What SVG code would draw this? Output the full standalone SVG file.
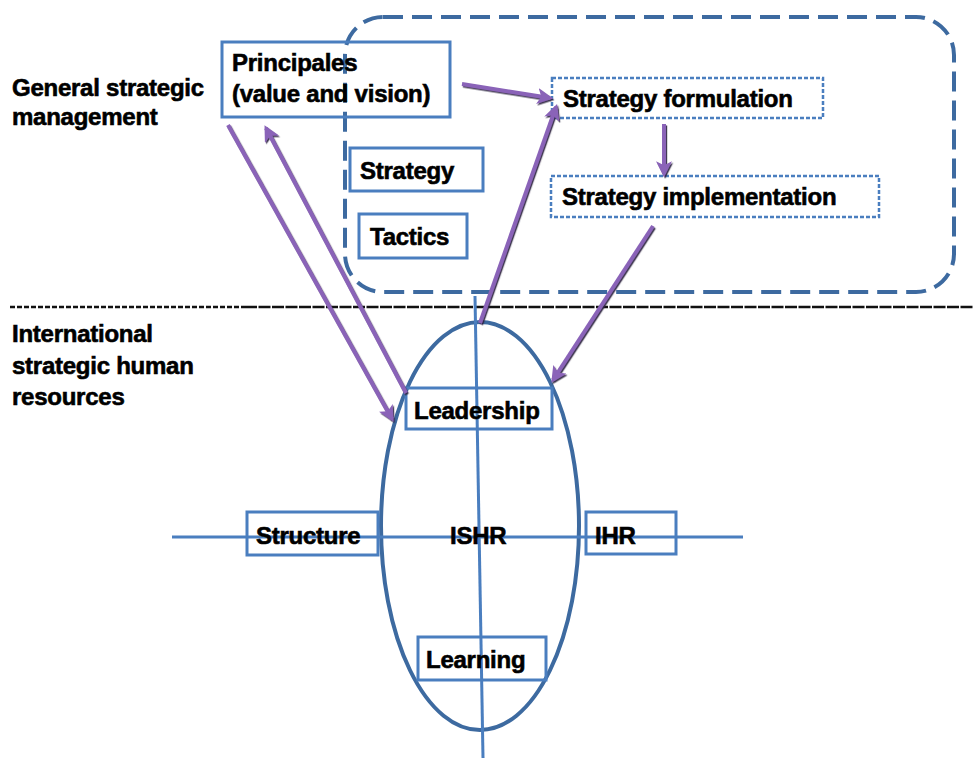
<svg xmlns="http://www.w3.org/2000/svg" width="974" height="758" viewBox="0 0 974 758">
  <style>
    text { font-family: "Liberation Sans", Arial, sans-serif; font-weight: bold; font-size: 24px; fill: #000; stroke: #000; stroke-width: 0.6; letter-spacing: -0.25px; }
    .box { fill: none; stroke: #4a7ebf; stroke-width: 3; }
    .dbox { fill: none; stroke: #4a7ebf; stroke-width: 2.5; stroke-dasharray: 4 2; }
    .frame { fill: none; stroke: #3d6aa0; stroke-width: 4; stroke-dasharray: 20 9; }
    .axis { fill: none; stroke: #4a7ebf; stroke-width: 3; }
    .arrow { fill: none; stroke: #8a63b8; stroke-width: 4; marker-end: url(#head); }
  </style>
  <defs>
    <marker id="head" viewBox="0 0 10 10" refX="8" refY="5" markerWidth="4" markerHeight="4" orient="auto" markerUnits="strokeWidth">
      <path d="M0,0 L10,5 L0,10 L2.5,5 Z" fill="#8a63b8"/>
    </marker>
    <filter id="shade" x="-10%" y="-10%" width="120%" height="120%">
      <feDropShadow dx="1.2" dy="1.5" stdDeviation="0.4" flood-color="#2e2040" flood-opacity="0.9"/>
    </filter>
  </defs>
  <rect width="974" height="758" fill="#fff"/>

  <!-- strategic management frame -->
  <rect id="frame" class="frame" x="345" y="17" width="609" height="275" rx="38" ry="38"/>

  <!-- divider between the two levels -->
  <line x1="10" y1="307" x2="245" y2="307" stroke="#111" stroke-width="2.5" stroke-dasharray="5 2"/>
  <line x1="245" y1="307" x2="974" y2="307" stroke="#111" stroke-width="2.5" stroke-dasharray="12 1.5"/>

  <!-- side labels -->
  <g id="label-general">
    <text x="12" y="96">General strategic</text>
    <text x="12" y="125">management</text>
  </g>
  <g id="label-ishr">
    <text x="12" y="342">International</text>
    <text x="12" y="374">strategic human</text>
    <text x="12" y="405">resources</text>
  </g>

  <!-- ISHR ellipse and axes -->
  <g id="ishr-core">
    <ellipse cx="480" cy="526" rx="99" ry="204" fill="none" stroke="#3d6aa0" stroke-width="4"/>
    <line class="axis" x1="475" y1="296" x2="483" y2="758"/>
    <line class="axis" x1="172" y1="537" x2="743" y2="537"/>
    <text x="450" y="544">ISHR</text>
  </g>

  <g id="principles">
    <rect class="box" x="222" y="42" width="228" height="75"/>
    <text x="232" y="71">Principales</text>
    <text x="232" y="102">(value and vision)</text>
  </g>
  <g id="strategy">
    <rect class="box" x="350" y="148" width="133" height="43"/>
    <text x="360" y="179">Strategy</text>
  </g>
  <g id="tactics">
    <rect class="box" x="359" y="214" width="108" height="44"/>
    <text x="370" y="245">Tactics</text>
  </g>
  <g id="formulation">
    <rect class="dbox" x="552" y="78" width="271" height="40"/>
    <text x="563" y="107">Strategy formulation</text>
  </g>
  <g id="implementation">
    <rect class="dbox" x="551" y="176" width="328" height="41"/>
    <text x="562" y="205">Strategy implementation</text>
  </g>
  <g id="leadership">
    <rect class="box" x="406" y="388" width="146" height="41"/>
    <text x="414" y="419">Leadership</text>
  </g>
  <g id="structure">
    <rect class="box" x="247" y="512" width="131" height="43"/>
    <text x="256" y="544">Structure</text>
  </g>
  <g id="ihr">
    <rect class="box" x="586" y="512" width="90" height="42"/>
    <text x="595" y="544">IHR</text>
  </g>
  <g id="learning">
    <rect class="box" x="418" y="637" width="128" height="43"/>
    <text x="426" y="668">Learning</text>
  </g>

  <!-- connectors -->
  <g id="connectors" filter="url(#shade)">
    <line class="arrow" x1="228" y1="125" x2="392" y2="419"/>
    <line class="arrow" x1="406" y1="393" x2="266" y2="128"/>
    <line class="arrow" x1="462" y1="84" x2="550" y2="98"/>
    <line class="arrow" x1="480" y1="323" x2="556" y2="107"/>
    <line class="arrow" x1="664" y1="124" x2="664" y2="174"/>
    <line class="arrow" x1="653" y1="226" x2="553" y2="380"/>
  </g>
</svg>
